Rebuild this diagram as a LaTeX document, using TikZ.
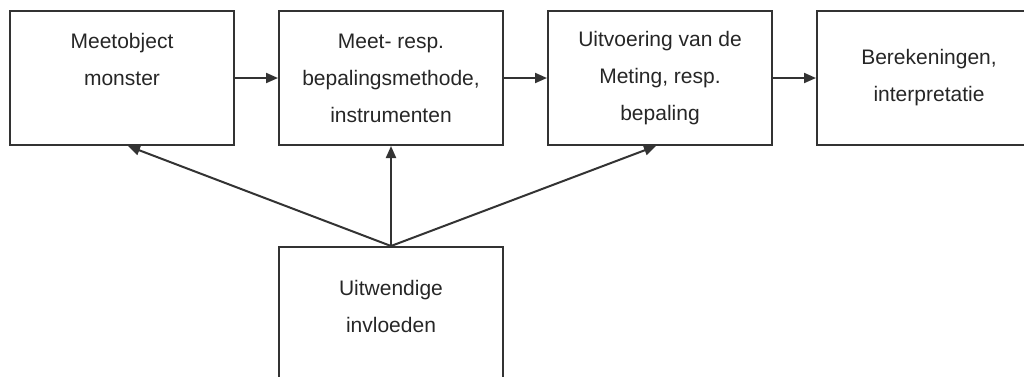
\documentclass[tikz,border=0pt]{standalone}
\usepackage{fontspec}
\setmainfont{Liberation Sans}
\usetikzlibrary{arrows.meta, positioning, calc}

\begin{document}
\begin{tikzpicture}[x=1pt, y=1pt,
    box/.style={rectangle, draw=black!80, line width=2pt, text=black!85,
        font=\fontsize{21}{37}\selectfont, minimum width=224pt, minimum height=134pt,
        align=center, inner sep=0pt},
    arr/.style={-{Triangle[length=12pt, width=10pt]}, line width=2pt, black!80}
]
    \useasboundingbox (0,0) rectangle (1024,-376);
    \clip (0,0) rectangle (1024,-376);
    \node[box] (obj) at (122,-78) {Meetobject\\monster\\~};
    \node[box, right=43pt of obj] (meet) {Meet- resp.\\bepalingsmethode,\\instrumenten};
    \node[box, right=43pt of meet] (exec) {Uitvoering van de\\Meting, resp.\\bepaling};
    \node[box, right=43pt of exec] (calc) {Berekeningen,\\interpretatie};
    \node[box, minimum height=156pt, below=100pt of meet] (infl) {Uitwendige\\invloeden\\~};
    \draw[arr] (obj) -- (meet);
    \draw[arr] (meet) -- (exec);
    \draw[arr] (exec) -- (calc);
    \draw[arr] (infl.north) -- ([xshift=6pt]obj.south);
    \draw[arr] (infl.north) -- (meet.south);
    \draw[arr] (infl.north) -- ([xshift=-4pt]exec.south);
\end{tikzpicture}
\end{document}
